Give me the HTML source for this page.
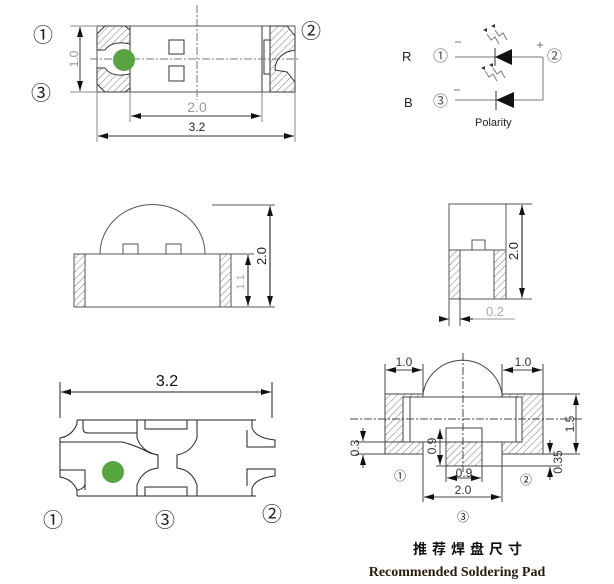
<!DOCTYPE html>
<html><head><meta charset="utf-8"><style>
html,body{margin:0;padding:0;background:#fff;}
svg{display:block;}
</style></head><body>
<svg width="614" height="584" viewBox="0 0 614 584" xmlns="http://www.w3.org/2000/svg" font-family="Liberation Sans, Noto Sans CJK SC, sans-serif">
<defs>
<pattern id="h" width="5" height="5" patternUnits="userSpaceOnUse" patternTransform="rotate(45)">
<rect width="5" height="5" fill="#fff"/><line x1="0" y1="0" x2="0" y2="5" stroke="#555" stroke-width="0.8"/></pattern>
<marker id="a" markerWidth="10" markerHeight="6" refX="10" refY="3" orient="auto-start-reverse" markerUnits="userSpaceOnUse"><path d="M0,0 L10,3 L0,6z" fill="#111"/></marker>
</defs>
<g fill="none" stroke="#333" stroke-width="1">
<rect x="97" y="26" width="198" height="66" stroke="#555"/>
<line x1="130" y1="26" x2="130" y2="92"/><line x1="262" y1="26" x2="262" y2="92"/>
<path d="M105,26 L125,26 L130,30 L130,44 Q112,40 105,50 L97,50 L97,34 Z" fill="url(#h)"/>
<path d="M97,68 L105,68 Q112,78 130,74 L130,88 L125,92 L105,92 L97,84 Z" fill="url(#h)"/>
<path d="M270,26 L287,26 L295,36 L295,50 L287,52 Q275,58 275,70 L287,72 L295,82 L295,92 L270,92 Z" fill="url(#h)"/>
<rect x="264" y="40" width="6" height="34" fill="#fff"/>
<rect x="169" y="40" width="15" height="14"/><rect x="169" y="66" width="15" height="15"/>
<line x1="90" y1="59" x2="300" y2="59" stroke="#777" stroke-dasharray="8,2,2,2"/>
<line x1="197" y1="5" x2="197" y2="100" stroke="#777" stroke-dasharray="8,2,2,2"/>
<line x1="70" y1="26" x2="97" y2="26" stroke="#888"/><line x1="70" y1="92" x2="97" y2="92" stroke="#888"/>
<line x1="80" y1="27" x2="80" y2="91" marker-start="url(#a)" marker-end="url(#a)"/>
<line x1="130" y1="92" x2="130" y2="122" stroke="#888"/><line x1="262" y1="92" x2="262" y2="122" stroke="#888"/>
<line x1="97" y1="92" x2="97" y2="142" stroke="#888"/><line x1="295" y1="92" x2="295" y2="142" stroke="#888"/>
<line x1="131" y1="116" x2="261" y2="116" marker-start="url(#a)" marker-end="url(#a)"/>
<line x1="98" y1="136" x2="294" y2="136" marker-start="url(#a)" marker-end="url(#a)"/>
</g>
<circle cx="124" cy="60" r="11" fill="#5aa341"/>
<text x="74" y="59" font-size="12" fill="#999" text-anchor="middle" transform="rotate(-90 74 59)" dy="4">1.0</text>
<text x="197" y="112" font-size="14" fill="#999" text-anchor="middle">2.0</text>
<text x="197" y="131" font-size="12" fill="#222" text-anchor="middle">3.2</text>
<g font-size="20" fill="#222" style="font-family:'Noto Sans CJK SC',sans-serif">
<text x="33" y="42">①</text><text x="301" y="38">②</text><text x="31" y="100">③</text>
<text x="43" y="527">①</text><text x="155" y="527">③</text><text x="262" y="521">②</text>
</g>
<g stroke="#777" fill="none" stroke-width="1">
<line x1="455" y1="57" x2="543" y2="57"/><line x1="455" y1="100" x2="543" y2="100"/>
<line x1="543" y1="57" x2="543" y2="100"/>
<line x1="495" y1="48" x2="495" y2="66" stroke="#333"/><line x1="496" y1="91" x2="496" y2="110" stroke="#333"/>
<path d="M487,34 l4,6 l4,-3 l4,7 M495,30 l4,6 l4,-3 l4,7 M485,71 l4,6 l4,-3 l4,7 M493,68 l4,6 l4,-3 l4,7"/>
<line x1="455" y1="42" x2="461" y2="42"/><line x1="454" y1="90" x2="460" y2="90"/>
<line x1="537" y1="45" x2="543" y2="45"/><line x1="540" y1="42" x2="540" y2="48"/>
</g>
<path d="M495,57 L512,49 L512,65 Z" fill="#111"/><path d="M496,100 L514,92 L514,108 Z" fill="#111"/>
<path d="M483,30 l4,-2 l0,4z M491,26 l4,-2 l0,4z M481,68 l4,-2 l0,4z M489,65 l4,-2 l0,4z" fill="#333"/>
<g font-size="15" fill="#555" style="font-family:'Noto Sans CJK SC',sans-serif"><text x="433" y="61">①</text><text x="547" y="61">②</text><text x="433" y="106">③</text></g>
<text x="402" y="61" font-size="13" fill="#222">R</text>
<text x="404" y="107" font-size="13" fill="#222">B</text>
<text x="475" y="126" font-size="11" fill="#222">Polarity</text>
<g fill="none" stroke="#555" stroke-width="1">
<rect x="74" y="254" width="157" height="53"/>
<rect x="74" y="254" width="11" height="53" fill="url(#h)"/><rect x="220" y="254" width="11" height="53" fill="url(#h)"/>
<path d="M100,254 A52,49 0 0 1 205,254"/>
<rect x="123" y="244" width="15" height="10"/><rect x="166" y="244" width="15" height="10"/>
<line x1="212" y1="205" x2="275" y2="205"/><line x1="231" y1="307" x2="275" y2="307"/>
<line x1="270" y1="206" x2="270" y2="306" stroke="#111" marker-start="url(#a)" marker-end="url(#a)"/>
<line x1="248" y1="255" x2="248" y2="306" stroke="#111" marker-start="url(#a)" marker-end="url(#a)"/>
<line x1="231" y1="254" x2="254" y2="254"/>
</g>
<text x="262" y="256" font-size="13" fill="#222" text-anchor="middle" transform="rotate(-90 262 256)" dy="4">2.0</text>
<text x="240" y="282" font-size="11" fill="#aaa" text-anchor="middle" transform="rotate(-90 240 282)" dy="4">1.1</text>
<g fill="none" stroke="#555" stroke-width="1">
<rect x="449" y="204" width="57" height="95"/>
<line x1="449" y1="250" x2="506" y2="250"/>
<rect x="449" y="250" width="11" height="49" fill="url(#h)"/><rect x="494" y="250" width="12" height="49" fill="url(#h)"/>
<rect x="472" y="240" width="13" height="10"/>
<line x1="506" y1="204" x2="532" y2="204"/><line x1="506" y1="299" x2="532" y2="299"/>
<line x1="522" y1="205" x2="522" y2="298" stroke="#111" marker-start="url(#a)" marker-end="url(#a)"/>
<line x1="449" y1="299" x2="449" y2="326"/><line x1="460" y1="299" x2="460" y2="326"/>
<line x1="441" y1="319" x2="449" y2="319" marker-end="url(#a)"/><line x1="473" y1="319" x2="460" y2="319" stroke="#111" marker-end="url(#a)"/>
<line x1="473" y1="319" x2="515" y2="319" stroke="#999"/>
</g>
<text x="514" y="251" font-size="13" fill="#222" text-anchor="middle" transform="rotate(-90 514 251)" dy="4">2.0</text>
<text x="495" y="316" font-size="13" fill="#aaa" text-anchor="middle">0.2</text>
<g fill="none" stroke="#222" stroke-width="1">
<line x1="60" y1="382" x2="60" y2="418"/><line x1="272" y1="382" x2="272" y2="418"/>
<line x1="61" y1="392" x2="271" y2="392" marker-start="url(#a)" marker-end="url(#a)"/>
<line x1="77" y1="420" x2="256" y2="420"/><line x1="77" y1="496" x2="256" y2="496"/>
<path d="M77,420 L77,424 Q72,436 60,438 L60,477 Q72,479 77,490 L77,496"/>
<path d="M60,442 L122,442 Q135,445 150,453 L158,455 L158,468 Q142,470 137,485 L137,496"/>
<path d="M137,420 L137,438 Q142,452 158,455"/>
<path d="M197,420 L197,438 Q192,452 177,455 L177,468 Q192,470 197,485 L197,496"/>
<path d="M60,470 L85,470 L85,490 M77,490 Q82,490 85,485"/>
<path d="M83,420 L83,428 Q83,433 88,433 L137,433"/>
<rect x="145" y="420" width="42" height="9"/><rect x="145" y="487" width="42" height="9"/>
<path d="M252,420 L252,428 Q256,438 275,440 L275,447 L247,447 L247,430"/>
<path d="M252,496 L252,488 Q256,478 275,476 L275,469 L247,469 L247,486"/>
</g>
<circle cx="113" cy="472" r="11" fill="#5aa341"/>
<text x="167" y="386" font-size="16" fill="#111" text-anchor="middle">3.2</text>
<g fill="none" stroke="#444" stroke-width="1">
<path d="M385,394 L423,394 L423,397 L403,397 L403,442 L423,442 L423,454 L385,454 Z" fill="url(#h)"/>
<path d="M543,394 L502,394 L502,397 L522,397 L522,442 L502,442 L502,454 L543,454 Z" fill="url(#h)"/>
<rect x="403" y="397" width="119" height="45"/>
<line x1="410" y1="397" x2="410" y2="442"/><line x1="516" y1="397" x2="516" y2="442"/>
<path d="M423,394 A40,40 0 0 1 502,394"/>
<rect x="446" y="428" width="36" height="38"/>
<rect x="446" y="442" width="36" height="24" fill="url(#h)"/>
<line x1="350" y1="419" x2="582" y2="419" stroke-dasharray="8,2,2,2"/>
<line x1="463" y1="353" x2="463" y2="472" stroke-dasharray="8,2,2,2"/>
<line x1="385" y1="364" x2="385" y2="394"/><line x1="423" y1="364" x2="423" y2="394"/>
<line x1="386" y1="370" x2="422" y2="370" marker-start="url(#a)" marker-end="url(#a)"/>
<line x1="502" y1="364" x2="502" y2="394"/><line x1="543" y1="364" x2="543" y2="394"/>
<line x1="503" y1="370" x2="542" y2="370" marker-start="url(#a)" marker-end="url(#a)"/>
<line x1="543" y1="394" x2="580" y2="394"/><line x1="543" y1="454" x2="580" y2="454"/>
<line x1="576" y1="395" x2="576" y2="453" marker-start="url(#a)" marker-end="url(#a)"/>
<line x1="356" y1="442" x2="403" y2="442"/><line x1="356" y1="454" x2="385" y2="454"/>
<line x1="363" y1="428" x2="363" y2="441" marker-end="url(#a)"/><line x1="363" y1="468" x2="363" y2="455" marker-end="url(#a)"/>
<line x1="440" y1="429" x2="440" y2="465" marker-start="url(#a)" marker-end="url(#a)"/>
<line x1="436" y1="466" x2="446" y2="466"/>
<line x1="482" y1="466" x2="560" y2="466"/>
<line x1="550" y1="440" x2="550" y2="453" marker-end="url(#a)"/><line x1="550" y1="480" x2="550" y2="467" marker-end="url(#a)"/>
<line x1="447" y1="478" x2="481" y2="478" marker-start="url(#a)" marker-end="url(#a)"/>
<line x1="446" y1="466" x2="446" y2="482"/><line x1="482" y1="466" x2="482" y2="482"/>
<line x1="423" y1="454" x2="423" y2="502"/><line x1="502" y1="454" x2="502" y2="502"/>
<line x1="424" y1="497" x2="501" y2="497" marker-start="url(#a)" marker-end="url(#a)"/>
</g>
<g font-size="12" fill="#333" text-anchor="middle">
<text x="404" y="366">1.0</text><text x="523" y="366">1.0</text>
<text x="464" y="477">0.9</text><text x="463" y="494">2.0</text>
<text x="570" y="424" transform="rotate(-90 570 424)" dy="4">1.5</text>
<text x="355" y="448" transform="rotate(-90 355 448)" dy="4">0.3</text>
<text x="432" y="446" transform="rotate(-90 432 446)" dy="4">0.9</text>
<text x="558" y="462" transform="rotate(-90 558 462)" dy="4">0.35</text>
</g>
<g font-size="12" fill="#222" text-anchor="middle" style="font-family:'Noto Sans CJK SC',sans-serif">
<text x="400" y="480">①</text><text x="526" y="484">②</text><text x="463" y="521">③</text>
</g>
<text x="470" y="554" font-size="14" font-weight="bold" fill="#111" text-anchor="middle" letter-spacing="5">推荐焊盘尺寸</text>
<text x="457" y="576" font-size="14" font-weight="bold" fill="#2a1a08" text-anchor="middle" style="font-family:'Liberation Serif',serif">Recommended Soldering Pad</text>
</svg>
</body></html>
